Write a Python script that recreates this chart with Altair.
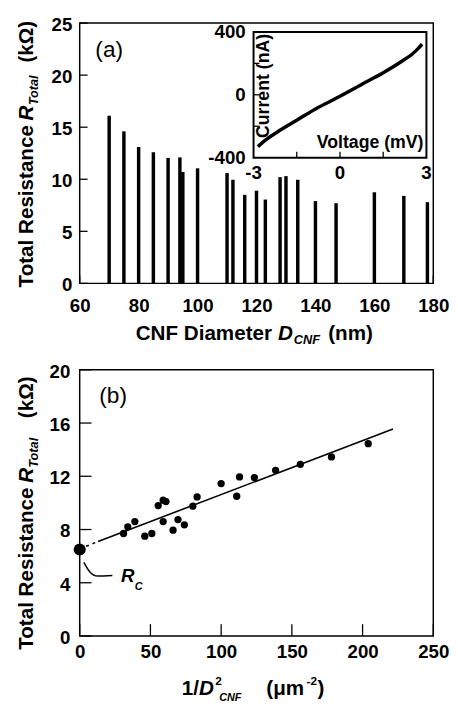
import altair as alt
import pandas as pd

FONT = "Liberation Sans"

# ---------------- panel (a): resistance vs diameter ----------------
diam_nm = [70, 75, 80, 85, 90, 94, 95, 100, 110, 112, 116, 120, 123, 128, 130, 134, 140, 147, 160, 170, 178]
r_total_a = [16.1, 14.6, 13.1, 12.6, 12.05, 12.1, 10.7, 11.05, 10.6, 9.95, 8.5, 8.9, 8.05, 10.2, 10.3, 9.95, 7.9, 7.7, 8.75, 8.4, 7.8]
a_xticks = [60, 80, 100, 120, 140, 160, 180]
a_yticks = [0, 5, 10, 15, 20, 25]

# inset I-V curve
inset_v = [-2.85, -2.6, -2.2, -1.5, -0.85, 0.0, 0.75, 1.5, 2.2, 2.5, 2.7, 2.85]
inset_i = [-330, -290, -240, -162, -90, -10, 66, 140, 220, 258, 292, 322]
inset_xdomain = [-3, 3]
inset_ydomain = [-400, 400]
inset_xlab_vals = [-3, 0, 3]
inset_xlab_text = ["-3", "0", "3"]
inset_ylab_vals = [400, 0, -400]
inset_ylab_text = ["400", "0", "-400"]
inset_xticks = [-1.5, 0, 1.5]
inset_yticks = [-200, 0, 200]

# ---------------- panel (b): resistance vs 1/D^2 ----------------
inv_d2 = [31, 34, 39, 46, 51, 55.5, 59, 61, 59, 66, 69.5, 74, 80, 83, 100, 111, 113, 123.5, 138.5, 156, 178, 204]
r_total_b = [7.7, 8.2, 8.6, 7.5, 7.7, 9.8, 10.2, 10.1, 8.6, 7.95, 8.75, 8.35, 9.75, 10.45, 11.45, 10.5, 11.95, 11.9, 12.45, 12.9, 13.45, 14.45]
fit_x = [13, 221.5]
fit_y = [7.1, 15.55]
ext_x = [0, 13]
ext_y = [6.55, 7.1]
rc_x = [0]
rc_y = [6.5]
rc_curve_x = [3.0, 6.9, 12.7, 23.1]
rc_curve_y = [5.53, 4.85, 4.5, 4.55]
b_xticks = [0, 50, 100, 150, 200, 250]
b_yticks = [0, 4, 8, 12, 16, 20]

WA, HA = 360, 265
WB, HB = 360, 271

one = pd.DataFrame({"k": [0]})


def txt(s, x, y, size=21, weight="bold", style="normal", angle=0, align="left", baseline="middle"):
    return alt.Chart(one).mark_text(
        text=s, fontSize=size, fontWeight=weight, fontStyle=style, font=FONT,
        angle=angle, align=align, baseline=baseline, color="black"
    ).encode(x=alt.value(x), y=alt.value(y))


# ---- panel (a) main ----
xa_scale = alt.Scale(domain=[60, 180], nice=False, zero=False)
ya_scale = alt.Scale(domain=[0, 25], nice=False)
xa_axis = alt.Axis(values=a_xticks, title=None, labelPadding=14)
ya_axis = alt.Axis(values=a_yticks, title=None, labelPadding=8, labelOffset=1.5)

bars = alt.Chart(pd.DataFrame({"D": diam_nm, "R": r_total_a})).mark_rule(
    color="black", strokeWidth=3.5
).encode(
    x=alt.X("D:Q", scale=xa_scale, axis=xa_axis),
    y=alt.Y("R:Q", scale=ya_scale, axis=ya_axis),
    y2=alt.datum(0),
)
a_yt = alt.Chart(pd.DataFrame({"t": a_yticks})).mark_rule(color="black", strokeWidth=1.3).encode(
    y=alt.Y("t:Q", scale=ya_scale, axis=ya_axis), x=alt.value(0), x2=alt.value(8)
)
a_xt = alt.Chart(pd.DataFrame({"t": a_xticks})).mark_rule(color="black", strokeWidth=1.3).encode(
    x=alt.X("t:Q", scale=xa_scale, axis=xa_axis), y=alt.value(HA), y2=alt.value(HA - 8)
)

a_texts = [
    txt("(a)", 30, 28, size=23, weight="normal", align="center"),
    txt("CNF Diameter", 57, 317),
    txt("D", 202, 317, style="italic"),
    txt("CNF", 218, 323, size=13, style="italic"),
    txt("(nm)", 253, 317),
    txt("Total Resistance", -54, 186.5, angle=270, align="center"),
    txt("R", -54, 91.5, style="italic", angle=270, align="center"),
    txt("Total", -46, 68.5, size=13, style="italic", angle=270, align="center"),
    txt("(kΩ)", -54, 19, angle=270, align="center"),
]

main_a = alt.layer(bars, a_yt, a_xt, *a_texts)

# ---- inset ----
xs_in = alt.Scale(domain=inset_xdomain, range=[177, 353], nice=False, zero=False)
ys_in = alt.Scale(domain=inset_ydomain, range=[137, 9], nice=False, zero=False)

frame = alt.Chart(pd.DataFrame({"x0": [inset_xdomain[0]], "x1": [inset_xdomain[1]],
                                "y0": [inset_ydomain[0]], "y1": [inset_ydomain[1]]})).mark_rect(
    fill="white", stroke="black", strokeWidth=2
).encode(
    x=alt.X("x0:Q", scale=xs_in, axis=None), x2="x1:Q",
    y=alt.Y("y0:Q", scale=ys_in, axis=None), y2="y1:Q",
)
iv_line = alt.Chart(pd.DataFrame({"V": inset_v, "I": inset_i})).mark_line(
    color="black", strokeWidth=3.5, interpolate="monotone"
).encode(
    x=alt.X("V:Q", scale=xs_in, axis=None),
    y=alt.Y("I:Q", scale=ys_in, axis=None),
)
in_xt = alt.Chart(pd.DataFrame({"t": inset_xticks})).mark_rule(color="black", strokeWidth=1.3).encode(
    x=alt.X("t:Q", scale=xs_in, axis=None), y=alt.value(137), y2=alt.value(131)
)
in_yt = alt.Chart(pd.DataFrame({"t": inset_yticks})).mark_rule(color="black", strokeWidth=1.3).encode(
    y=alt.Y("t:Q", scale=ys_in, axis=None), x=alt.value(177), x2=alt.value(183)
)
in_xl = alt.Chart(pd.DataFrame({"v": inset_xlab_vals, "s": inset_xlab_text})).mark_text(
    font=FONT, fontSize=19, fontWeight="bold", color="black", align="center", baseline="middle"
).encode(x=alt.X("v:Q", scale=xs_in, axis=None), y=alt.value(153), text="s:N")
in_yl = alt.Chart(pd.DataFrame({"v": inset_ylab_vals, "s": inset_ylab_text})).mark_text(
    font=FONT, fontSize=19, fontWeight="bold", color="black", align="right", baseline="middle"
).encode(y=alt.Y("v:Q", scale=ys_in, axis=None), x=alt.value(169), text="s:N")

inset = alt.layer(
    frame, iv_line, in_xt, in_yt, in_xl, in_yl,
    txt("Current (nA)", 188, 64, size=18, angle=270, align="center"),
    txt("Voltage (mV)", 350, 122, size=18, align="right"),
)

panel_a = alt.layer(main_a, inset).resolve_scale(x="independent", y="independent").properties(
    width=WA, height=HA
)

# ---- panel (b) ----
xb_scale = alt.Scale(domain=[0, 250], nice=False)
yb_scale = alt.Scale(domain=[0, 20], nice=False)
xb_axis = alt.Axis(values=b_xticks, title=None, labelPadding=7)
yb_axis = alt.Axis(values=b_yticks, title=None, labelPadding=10, labelOffset=1.5)

pts = alt.Chart(pd.DataFrame({"x": inv_d2, "y": r_total_b})).mark_circle(
    color="black", opacity=1, size=55
).encode(x=alt.X("x:Q", scale=xb_scale, axis=xb_axis), y=alt.Y("y:Q", scale=yb_scale, axis=yb_axis))
fit = alt.Chart(pd.DataFrame({"x": fit_x, "y": fit_y})).mark_line(color="black", strokeWidth=1.6).encode(
    x=alt.X("x:Q", scale=xb_scale, axis=xb_axis), y=alt.Y("y:Q", scale=yb_scale, axis=yb_axis)
)
ext = alt.Chart(pd.DataFrame({"x": ext_x, "y": ext_y})).mark_line(
    color="black", strokeWidth=1.6, strokeDash=[3, 4]
).encode(x=alt.X("x:Q", scale=xb_scale, axis=xb_axis), y=alt.Y("y:Q", scale=yb_scale, axis=yb_axis))
rc = alt.Chart(pd.DataFrame({"x": rc_x, "y": rc_y})).mark_circle(color="black", opacity=1, size=150).encode(
    x=alt.X("x:Q", scale=xb_scale, axis=xb_axis), y=alt.Y("y:Q", scale=yb_scale, axis=yb_axis)
)
rc_curve = alt.Chart(pd.DataFrame({"x": rc_curve_x, "y": rc_curve_y})).mark_line(
    color="black", strokeWidth=1.5, interpolate="monotone"
).encode(x=alt.X("x:Q", scale=xb_scale, axis=xb_axis), y=alt.Y("y:Q", scale=yb_scale, axis=yb_axis))
b_yt = alt.Chart(pd.DataFrame({"t": b_yticks})).mark_rule(color="black", strokeWidth=1.3).encode(
    y=alt.Y("t:Q", scale=yb_scale, axis=yb_axis), x=alt.value(0), x2=alt.value(12)
)
b_xt = alt.Chart(pd.DataFrame({"t": b_xticks})).mark_rule(color="black", strokeWidth=1.3).encode(
    x=alt.X("t:Q", scale=xb_scale, axis=xb_axis), y=alt.value(HB), y2=alt.value(HB - 12)
)

b_texts = [
    txt("(b)", 34, 27, size=23, weight="normal", align="center"),
    txt("R", 49, 210, size=19, style="italic", align="center"),
    txt("C", 56, 221, size=11, style="italic"),
    txt("1/", 104, 325),
    txt("D", 121.5, 325, style="italic"),
    txt("2", 138, 317, size=12),
    txt("CNF", 142, 334, size=11, style="italic"),
    txt("(μm", 190, 325),
    txt("-2", 231, 317, size=12),
    txt(")", 242, 325),
    txt("Total Resistance", -54, 202.5, angle=270, align="center"),
    txt("R", -54, 107.5, style="italic", angle=270, align="center"),
    txt("Total", -46, 84.5, size=13, style="italic", angle=270, align="center"),
    txt("(kΩ)", -54, 28, angle=270, align="center"),
]

panel_b = alt.layer(ext, fit, rc_curve, pts, rc, b_yt, b_xt, *b_texts).properties(width=WB, height=HB)

chart = alt.vconcat(panel_a, panel_b, spacing=13).properties(
    padding={"left": 7, "top": 0, "right": 0, "bottom": 0},
    background="white",
).configure_view(stroke="black", strokeWidth=1.5).configure_axis(
    domain=False, ticks=False, grid=False, labelFont=FONT, labelFontSize=19,
    labelFontWeight="bold", labelColor="black", labelFlush=False, labelOverlap=False
)

chart.save("out.html", embed_options={"renderer": "svg", "actions": False})
